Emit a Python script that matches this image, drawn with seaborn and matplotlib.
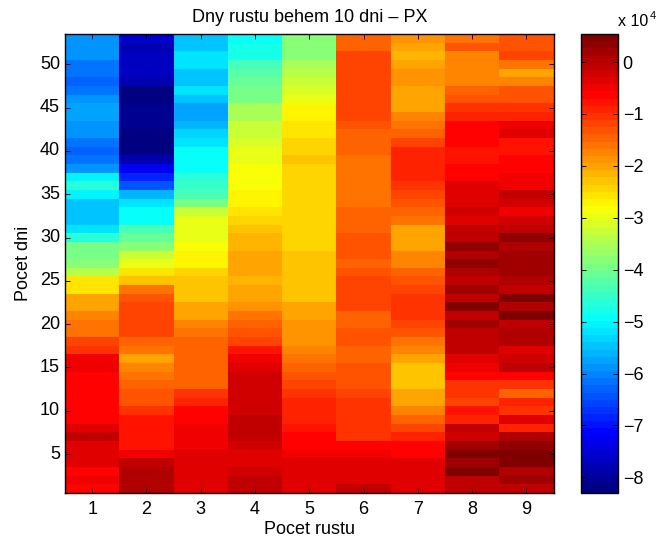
import pandas as pd
import numpy as np
import matplotlib
matplotlib.use('Agg')
import matplotlib.pyplot as plt
from matplotlib.colors import LinearSegmentedColormap
import seaborn as sns

# values in units of 10^4, rows go from day 53 down to day 1
rust1 = [-5.85,-5.85,-5.85,-6.15,-6.15,-6.3,-6.1,-5.85,-5.75,-5.75,
         -5.85,-5.85,-6.2,-6.35,-6.1,-5.85,-5.1,-4.6,-5.0,-5.4,
         -5.5,-5.4,-5.25,-4.6,-3.95,-3.95,-3.75,-3.4,-2.55,-2.55,
         -2.05,-1.95,-1.7,-1.55,-1.55,-1.15,-1.0,-.56,-.56,-.68,
         -.68,-.68,-.68,-.6,-.6,-.3,-.15,-.3,-.3,-.3,
         -.7,-.56,-.6]
rust2 = [-7.55,-7.85,-7.7,-7.7,-7.7,-7.85,-8.2,-8.2,-8.1,-8.1,
         -8.1,-8.25,-8.25,-8.25,-7.8,-7.2,-6.9,-6.5,-5.6,-5.25,
         -4.95,-4.95,-4.35,-4.1,-3.75,-3.3,-3.05,-2.55,-2.25,-1.6,
         -1.38,-1.25,-1.12,-1.12,-1.12,-1.45,-1.65,-1.95,-1.7,-1.65,
         -1.5,-1.3,-1.3,-1.0,-.8,-.8,-.8,-.8,-.56,-.12,
         .12,.12,.12]
rust3 = [-5.45,-5.45,-5.25,-5.25,-5.45,-5.45,-5.25,-5.45,-5.7,-5.7,
         -5.6,-5.3,-5.2,-4.95,-4.85,-4.85,-4.6,-4.45,-4.3,-3.9,
         -3.3,-3.0,-3.0,-3.0,-2.85,-2.75,-2.65,-2.4,-2.25,-2.25,
         -2.25,-2.0,-2.0,-1.8,-1.65,-1.5,-1.5,-1.4,-1.4,-1.4,
         -1.4,-1.1,-.85,-.7,-.7,-.56,-.56,-.56,-.42,-.42,
         -.42,-.42,-.3]
rust4 = [-4.95,-4.75,-4.75,-4.4,-4.25,-4.1,-3.9,-3.9,-3.6,-3.6,
         -3.3,-3.3,-3.15,-3.05,-3.05,-2.9,-2.9,-2.9,-2.75,-2.75,
         -2.55,-2.42,-2.3,-2.15,-2.15,-2.0,-2.0,-2.0,-2.15,-2.0,
         -2.0,-1.85,-1.65,-1.4,-1.33,-1.12,-.8,-.56,-.42,-.28,
         -.28,-.28,-.28,-.28,-.12,-.12,-.12,-.28,-.42,-.42,
         -.28,-.12,-.12]
rust5 = [-3.85,-3.8,-3.8,-3.5,-3.38,-3.25,-3.1,-2.95,-2.75,-2.75,
         -2.62,-2.62,-2.48,-2.48,-2.33,-2.48,-2.48,-2.48,-2.48,-2.48,
         -2.48,-2.48,-2.48,-2.48,-2.48,-2.25,-2.25,-2.25,-2.25,-2.25,
         -2.25,-2.05,-1.97,-1.85,-1.85,-1.85,-1.72,-1.6,-1.45,-1.33,
         -1.2,-1.05,-.97,-.97,-.97,-.8,-.68,-.68,-.56,-.42,
         -.42,-.42,-.3]
rust6 = [-1.42,-1.42,-1.25,-1.25,-1.25,-1.25,-1.25,-1.25,-1.25,-1.25,
         -1.38,-1.5,-1.5,-1.5,-1.65,-1.65,-1.65,-1.65,-1.65,-1.65,
         -1.5,-1.5,-1.5,-1.38,-1.38,-1.38,-1.45,-1.35,-1.2,-1.2,
         -1.2,-1.2,-1.42,-1.42,-1.35,-1.35,-1.42,-1.42,-1.38,-1.38,
         -1.38,-1.15,-1.0,-1.0,-1.0,-1.0,-1.0,-.7,-.56,-.42,
         -.3,-.3,-.15]
rust7 = [-1.9,-2.0,-2.17,-1.97,-1.85,-1.85,-1.95,-1.95,-1.95,-1.8,
         -1.65,-1.45,-1.15,-.85,-.85,-.85,-.85,-1.0,-1.2,-1.38,
         -1.5,-1.65,-1.97,-1.97,-1.97,-1.8,-1.68,-1.5,-1.3,-1.2,
         -1.0,-1.0,-1.0,-1.12,-1.35,-1.55,-1.8,-1.97,-2.25,-2.25,
         -2.25,-2.08,-1.95,-1.8,-1.5,-1.2,-.9,-.7,-.7,-.42,
         -.42,-.3,-.3]
rust8 = [-1.6,-1.35,-1.68,-1.8,-1.8,-1.8,-1.5,-1.27,-1.05,-.85,
         -.68,-.68,-.68,-.83,-.83,-.68,-.68,-.42,-.42,-.42,
         -.25,-.42,-.12,-.12,.3,0,.3,.12,-.02,.25,
         -.02,.54,-.02,.25,-.02,-.12,-.12,-.42,-.56,-.68,
         -1.1,-1.0,-1.25,-.75,-.95,-.12,-.28,.25,.42,.25,
         .42,-.02,-.02]
rust9 = [-1.35,-1.35,-1.2,-1.6,-2.08,-1.68,-1.35,-1.35,-1.1,-.87,
         -.56,-.42,-.8,-.8,-.68,-.68,-.56,-.56,-.12,-.28,
         -.56,-.28,-.15,.3,0,.25,.25,.25,.12,-.02,
         .54,.12,.54,-.02,.12,.12,-.42,-.28,-.12,-.68,
         -1.1,-1.42,-.87,-1.1,-.42,-.85,.12,.3,.54,.54,
         .12,.25,-.12]

pocet_rustu = [1, 2, 3, 4, 5, 6, 7, 8, 9]
pocet_dni = list(range(53, 0, -1))
y_ticks = [5, 10, 15, 20, 25, 30, 35, 40, 45, 50]
cbar_ticks = [-8, -7, -6, -5, -4, -3, -2, -1, 0]

plt.rcParams['font.family'] = ['Liberation Sans', 'DejaVu Sans']
plt.rcParams['font.size'] = 13

df = pd.DataFrame(dict(zip(pocet_rustu, [rust1, rust2, rust3, rust4, rust5, rust6, rust7, rust8, rust9])), index=pocet_dni)

# matlab style jet, 64 levels
jet64 = LinearSegmentedColormap.from_list('matlab_jet', [
    (0, (0, 0, .5)), (1/8, (0, 0, 1)), (3/8, (0, 1, 1)),
    (5/8, (1, 1, 0)), (7/8, (1, 0, 0)), (1, (.5, 0, 0))], N=64)

W, H = 660, 540
fig = plt.figure(figsize=(W/100, H/100), dpi=100)
ax = fig.add_axes([65/W, 1-493/H, 488.5/W, 459/H])
cax = fig.add_axes([581/W, 1-493/H, 37.5/W, 459/H])

sns.heatmap(df, ax=ax, cbar_ax=cax, cmap=jet64, vmin=-8.3, vmax=0.54, cbar_kws={'ticks': cbar_ticks}, linewidths=0, rasterized=True)

ax.set_xticks([i+.5 for i in range(len(pocet_rustu))])
ax.set_xticklabels(pocet_rustu, rotation=0)
ax.set_yticks([53-d+.5 for d in y_ticks])
ax.set_yticklabels(y_ticks, rotation=0)
ax.tick_params(direction='in', length=3.6, width=.7, top=True, right=True, labelsize=13)
ax.tick_params(axis='x', pad=6)
ax.tick_params(axis='y', pad=3.6)
for s in ax.spines.values():
    s.set_visible(True)
    s.set_linewidth(1)
    s.set_color('black')

ax.set_title('Dny rustu behem 10 dni – PX', fontsize=13, pad=9)
ax.set_xlabel('Pocet rustu', fontsize=13, labelpad=2)
ax.set_ylabel('Pocet dni', fontsize=13, labelpad=5.5)

cax.tick_params(direction='in', length=3.6, width=.7, left=True, right=True, labelsize=13, pad=3)
cax.set_yticklabels(['\u2212%d' % abs(t) if t < 0 else '0' for t in cbar_ticks])
cb = ax.collections[0].colorbar
cb.outline.set_visible(True)
cb.outline.set_edgecolor('black')
cb.outline.set_linewidth(1)
fig.text(618/W, 1-26/H, 'x 10', fontsize=11.5)
fig.text(650/W, 1-19/H, '4', fontsize=8)

plt.savefig('out.png', dpi=100)
